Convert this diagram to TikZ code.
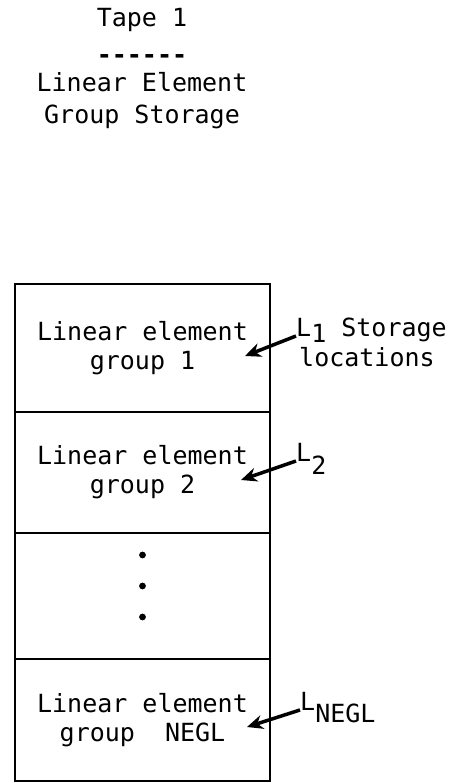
\documentclass[tikz,border=0pt]{standalone}
\usepackage{fontspec}
\setmonofont{DejaVu Sans Mono}
\usetikzlibrary{arrows.meta, positioning}
\tikzset{
    typed/.style={font=\ttfamily\fontsize{25}{29}\selectfont, inner sep=0pt},
    cell/.style={typed, rectangle, draw, line width=2.5pt, outer sep=0pt, minimum width=255pt, align=center},
    lbl/.style={typed, anchor=base west},
    ptr/.style={line width=3.5pt, -{Stealth[length=16pt, width=14pt]}},
}

\begin{document}
\begin{tikzpicture}[x=1pt, y=-1pt]
    \useasboundingbox (0,0) rectangle (453,783);
    % heading
    \node[typed] (tape) at (142,20) {Tape 1};
    \node[typed, font=\ttfamily\bfseries\fontsize{25}{29}\selectfont, anchor=base] (rule) at (142,64) {------};
    \node[typed, align=center, font=\ttfamily\fontsize{25}{32}\selectfont] (head) at (142,101) {Linear Element\\Group Storage};
    % storage cells
    \node[cell, minimum height=128pt] (grp1) at (142.5,348) {Linear element\\group 1};
    \node[cell, minimum height=121pt, below=0pt of grp1] (grp2) {Linear element\\group 2};
    \node[cell, minimum height=126pt, below=0pt of grp2] (grpdots) {};
    \node[cell, minimum height=122pt, below=0pt of grpdots] (grpn) {Linear element\\group~~NEGL};
    \foreach \dy in {41,10,-21}
        \fill ([yshift=\dy]grpdots.center) circle (3.4pt);
    % pointers
    \node[lbl] (l1) at (296,336) {L\raisebox{-6pt}{1} Storage};
    \node[lbl] (loc) at (299,366) {locations};
    \node[lbl] (l2) at (296,461) {L\raisebox{-13pt}{2}};
    \node[lbl] (ln) at (300,710) {L\raisebox{-12pt}{NEGL}};
    \coordinate (tip1) at (245,356);
    \coordinate (tip2) at (241,480);
    \coordinate (tipn) at (247,727);
    \draw[ptr] (l1.base west) -- (tip1);
    \draw[ptr] (l2.base west) -- (tip2);
    \draw[ptr] (ln.base west) -- (tipn);
\end{tikzpicture}
\end{document}
